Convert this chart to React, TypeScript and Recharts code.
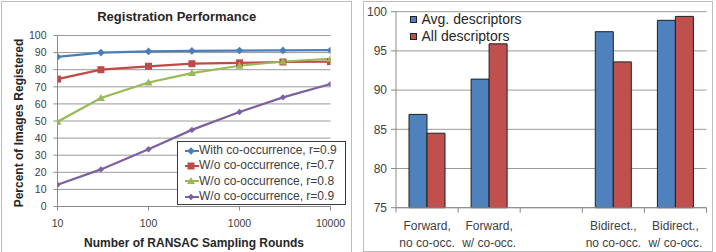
import React from 'react';
import { LineChart, Line, XAxis, YAxis, CartesianGrid, Legend, BarChart, Bar } from 'recharts';

// ---------- Left chart data ----------
const rounds = [10, 30, 100, 300, 1000, 3000, 10000];
const withCooc09 = [87.5, 90, 90.7, 91, 91.2, 91.3, 91.4];
const woCooc07 = [74.5, 80, 82, 83.5, 84, 84.5, 84.7];
const woCooc08 = [49.5, 63.5, 72.5, 78, 82.3, 84.8, 86.4];
const woCooc09 = [12.7, 21.7, 33.5, 44.8, 55.3, 63.8, 71.6];
const lineSeriesNames = [
  'With co-occurrence, r=0.9',
  'W/o co-occurrence, r=0.7',
  'W/o co-occurrence, r=0.8',
  'W/o co-occurrence, r=0.9',
];
const roundTicks = [10, 100, 1000, 10000];
const percentTicks = [0, 10, 20, 30, 40, 50, 60, 70, 80, 90, 100];

// ---------- Right chart data ----------
const barCategoryLabels = [
  ['Forward,', 'no co-occ.'],
  ['Forward,', 'w/ co-occ.'],
  ['', ''],
  ['Bidirect.,', 'no co-occ.'],
  ['Bidirect.,', 'w/ co-occ.'],
];
const avgDescriptors = [86.9, 91.4, null, 97.45, 98.9];
const allDescriptors = [84.5, 95.9, null, 93.6, 99.4];
const barSeriesNames = ['Avg. descriptors', 'All descriptors'];
const barTicks = [75, 80, 85, 90, 95, 100];

// ---------- styles ----------
const FONT = '"Liberation Sans", Arial, sans-serif';
const lineSeries = [
  { key: 's1', values: withCooc09, color: '#4A7EBB', shape: 'diamond' },
  { key: 's2', values: woCooc07, color: '#BE4B48', shape: 'square' },
  { key: 's3', values: woCooc08, color: '#98B954', shape: 'triangle' },
  { key: 's4', values: woCooc09, color: '#7D60A0', shape: 'smalldiamond' },
];
const barSeries = [
  { key: 'avg', values: avgDescriptors, color: '#4F81BD' },
  { key: 'all', values: allDescriptors, color: '#C0504D' },
];

const lineData = rounds.map((r, i) => {
  const row: any = { rounds: r };
  lineSeries.forEach((s) => (row[s.key] = s.values[i]));
  return row;
});

const barData = barCategoryLabels.map((lbl, i) => {
  const row: any = { name: lbl.join(' ').trim() || ' ' };
  barSeries.forEach((s) => (row[s.key] = s.values[i]));
  return row;
});

function orderPayload(payload: any[], keys: string[]) {
  return [...payload].sort((a, b) => keys.indexOf(a.dataKey) - keys.indexOf(b.dataKey));
}

function Marker({ shape, cx, cy, color }: any) {
  if (cx == null || cy == null) return null;
  if (shape === 'diamond' || shape === 'smalldiamond') {
    const r = shape === 'diamond' ? 3.8 : 3.2;
    return (
      <polygon
        points={`${cx},${cy - r} ${cx + r},${cy} ${cx},${cy + r} ${cx - r},${cy}`}
        fill={color}
      />
    );
  }
  if (shape === 'square') {
    return <rect x={cx - 3.5} y={cy - 3.5} width={7} height={7} fill={color} />;
  }
  if (shape === 'triangle') {
    return (
      <polygon
        points={`${cx},${cy - 4} ${cx + 4},${cy + 3} ${cx - 4},${cy + 3}`}
        fill={color}
      />
    );
  }
  return <circle cx={cx} cy={cy} r={3} fill={color} />;
}

const LineLegend = (props: any) => {
  const payload = orderPayload(props.payload || [], lineSeries.map((s) => s.key));
  return (
    <div
      style={{
        border: '1px solid #3a3a3a',
        background: '#fff',
        padding: '1px 0',
        boxSizing: 'border-box',
        width: 169,
        height: 64,
        fontFamily: FONT,
      }}
    >
      {payload.map((entry: any, i: number) => {
        const s = lineSeries.find((x) => x.key === entry.dataKey) || lineSeries[i];
        return (
          <div key={i} style={{ display: 'flex', alignItems: 'center', height: 15.3 }}>
            <svg width={14} height={10} style={{ marginLeft: 7, display: 'block' }}>
              <line x1={0} x2={14} y1={5} y2={5} stroke={s.color} strokeWidth={2} />
              <Marker shape={s.shape} cx={6} cy={5} color={s.color} />
            </svg>
            <span style={{ fontSize: 12, color: '#404040', whiteSpace: 'nowrap', lineHeight: '15px' }}>
              {entry.value}
            </span>
          </div>
        );
      })}
    </div>
  );
};

const BarLegend = (props: any) => {
  const payload = orderPayload(props.payload || [], barSeries.map((s) => s.key));
  return (
    <div style={{ fontFamily: FONT }}>
      {payload.map((entry: any, i: number) => (
        <div key={i} style={{ display: 'flex', alignItems: 'center', height: 17 }}>
          <div
            style={{
              width: 7,
              height: 7,
              background: entry.color,
              border: '1px solid #222',
              boxSizing: 'border-box',
              marginRight: 4.5,
            }}
          />
          <span style={{ fontSize: 14, color: '#262626', whiteSpace: 'nowrap', lineHeight: '17px' }}>
            {entry.value}
          </span>
        </div>
      ))}
    </div>
  );
};

// right chart layout
const R_W = 352;
const R_H = 252;
const R_MARGIN = { top: 11.7, right: 7.5, left: 4, bottom: 4.3 };
const R_YAXIS_W = 30;
const R_PLOT_W = R_W - R_MARGIN.left - R_MARGIN.right - R_YAXIS_W;
const halfBand = R_PLOT_W / barCategoryLabels.length / 2;

const BarTick = (props: any) => {
  const { x, y, index } = props;
  const lines = barCategoryLabels[index] || ['', ''];
  const last = index === barCategoryLabels.length - 1;
  return (
    <g>
      <line x1={x - halfBand} x2={x - halfBand} y1={y} y2={y + 5} stroke="#888" />
      {last && <line x1={x + halfBand} x2={x + halfBand} y1={y} y2={y + 5} stroke="#888" />}
      <text x={x} y={y + 22.3} textAnchor="middle" fontSize={12} fill="#404040" fontFamily={FONT}>
        {lines[0]}
      </text>
      <text x={x} y={y + 39.3} textAnchor="middle" fontSize={12} fill="#404040" fontFamily={FONT}>
        {lines[1]}
      </text>
    </g>
  );
};

export default function App() {
  return (
    <div
      style={{
        position: 'absolute',
        left: 0,
        top: 0,
        width: 716,
        height: 252,
        background: '#fff',
        fontFamily: FONT,
        overflow: 'hidden',
      }}
    >
      {/* Left chart frame */}
      <div
        style={{
          position: 'absolute',
          left: 1,
          top: 1,
          width: 351,
          height: 252,
          border: '1px solid #bdbdbd',
          boxSizing: 'border-box',
        }}
      />
      <div style={{ position: 'absolute', left: 0, top: 0, width: 352, height: 252 }}>
        <LineChart
          width={352}
          height={252}
          data={lineData}
          margin={{ top: 35.5, right: 21.5, left: 17.5, bottom: 15.5 }}
        >
          <CartesianGrid vertical={false} stroke="#9a9a9a" />
          <XAxis
            dataKey="rounds"
            type="number"
            scale="log"
            domain={[10, 10000]}
            ticks={roundTicks}
            height={30}
            stroke="#8a8a8a"
            tickSize={4}
            tickMargin={9}
            tick={{ fontSize: 10.5, fill: '#404040', fontFamily: FONT }}
            allowDataOverflow
          />
          <YAxis
            type="number"
            domain={[0, 100]}
            ticks={percentTicks}
            width={40}
            stroke="#8a8a8a"
            tickSize={4}
            tickMargin={7}
            interval={0}
            tick={{ fontSize: 10.5, fill: '#404040', fontFamily: FONT }}
          />
          {lineSeries.map((s, i) => (
            <Line
              key={s.key}
              dataKey={s.key}
              name={lineSeriesNames[i]}
              stroke={s.color}
              strokeWidth={2.2}
              isAnimationActive={false}
              dot={(p: any) => (
                <Marker key={`${s.key}-${p.index}`} shape={s.shape} cx={p.cx} cy={p.cy} color={s.color} />
              )}
              activeDot={false}
            />
          ))}
          <Legend
            layout="vertical"
            align="center"
            verticalAlign="middle"
            content={LineLegend}
            wrapperStyle={{ left: 177, top: 141, width: 169, height: 64 }}
          />
        </LineChart>
      </div>
      <div
        style={{
          position: 'absolute',
          left: 176.7,
          top: 16,
          transform: 'translate(-50%, -50%)',
          fontSize: 13,
          fontWeight: 'bold',
          color: '#262626',
          whiteSpace: 'nowrap',
        }}
      >
        Registration Performance
      </div>
      <div
        style={{
          position: 'absolute',
          left: 194,
          top: 242.5,
          transform: 'translate(-50%, -50%)',
          fontSize: 12,
          fontWeight: 'bold',
          color: '#262626',
          whiteSpace: 'nowrap',
        }}
      >
        Number of RANSAC Sampling Rounds
      </div>
      <div
        style={{
          position: 'absolute',
          left: 19,
          top: 123,
          transform: 'translate(-50%, -50%) rotate(-90deg)',
          fontSize: 12,
          fontWeight: 'bold',
          color: '#262626',
          whiteSpace: 'nowrap',
        }}
      >
        Percent of Images Registered
      </div>

      {/* Right chart frame */}
      <div
        style={{
          position: 'absolute',
          left: 363,
          top: 1,
          width: 350,
          height: 251,
          border: '1px solid #bdbdbd',
          boxSizing: 'border-box',
        }}
      />
      <div style={{ position: 'absolute', left: 362, top: 0, width: R_W, height: R_H }}>
        <BarChart
          width={R_W}
          height={R_H}
          data={barData}
          margin={R_MARGIN}
          barSize={18}
          barGap={0}
        >
          <CartesianGrid vertical={false} stroke="#9a9a9a" />
          <XAxis
            dataKey="name"
            type="category"
            height={40}
            stroke="#8a8a8a"
            tickLine={false}
            tickSize={0}
            tickMargin={0}
            interval={0}
            tick={BarTick}
          />
          <YAxis
            type="number"
            domain={[75, 100]}
            ticks={barTicks}
            width={R_YAXIS_W}
            stroke="#8a8a8a"
            tickSize={5}
            tickMargin={4}
            interval={0}
            tick={{ fontSize: 12, fill: '#404040', fontFamily: FONT }}
          />
          {barSeries.map((s, i) => (
            <Bar
              key={s.key}
              dataKey={s.key}
              name={barSeriesNames[i]}
              fill={s.color}
              stroke="#1e1e1e"
              strokeWidth={1}
              isAnimationActive={false}
            />
          ))}
          <Legend
            layout="vertical"
            align="center"
            verticalAlign="middle"
            content={BarLegend}
            wrapperStyle={{ left: 48, top: 10.5, width: 160 }}
          />
        </BarChart>
      </div>
    </div>
  );
}
